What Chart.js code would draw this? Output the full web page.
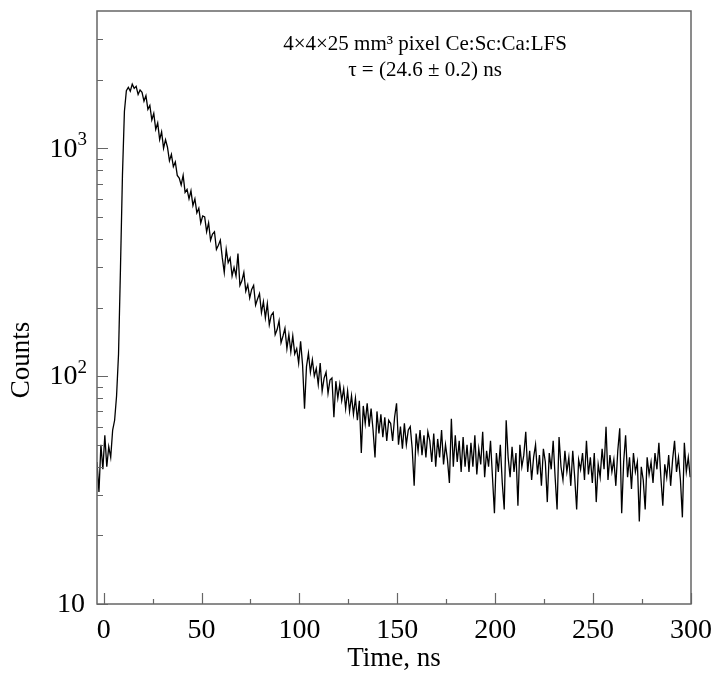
<!DOCTYPE html>
<html>
<head>
<meta charset="utf-8">
<title>Ce:Sc:Ca:LFS decay</title>
<script src="https://cdn.jsdelivr.net/npm/chart.js@4.4.1/dist/chart.umd.min.js"></script>
<style>
  html, body { margin: 0; padding: 0; background: #fff; }
  #wrap { width: 716px; height: 675px; }
</style>
</head>
<body>
<div id="wrap"><canvas id="decayChart" width="716" height="675"></canvas></div>
<script>
// time axis: first bin and bin width (ns)
const timeStart = -3.4;
const timeStep = 1;

// counts per bin
const counts = [
  42, 31, 50, 39, 55, 40, 49, 44, 58, 64,
  82, 125, 300, 760, 1450, 1790, 1850, 1780, 1910, 1830,
  1870, 1720, 1800, 1760, 1610, 1700, 1480, 1540, 1330, 1420,
  1210, 1290, 1090, 1180, 1000, 1090, 1010, 880, 940, 830,
  870, 760, 740, 690, 760, 640, 660, 600, 650, 560,
  600, 520, 545, 470, 505, 500, 430, 470, 395, 420,
  430, 360, 375, 395, 330, 285, 360, 315, 330, 275,
  300, 275, 345, 250, 262, 285, 236, 252, 220, 240,
  250, 205, 218, 230, 190, 212, 180, 208, 168, 185,
  190, 152, 160, 175, 140, 150, 162, 132, 152, 128,
  150, 125, 132, 114, 142, 112, 72, 110, 126, 104,
  118, 100, 108, 92, 114, 86, 98, 104, 84, 96,
  98, 66, 95, 80, 92, 78, 88, 72, 86, 70,
  82, 68, 80, 64, 78, 46, 74, 62, 76, 60,
  72, 58, 44, 70, 56, 68, 54, 66, 52, 64,
  62, 52, 66, 76, 50, 60, 48, 62, 50, 58,
  60, 48, 33, 56, 47, 58, 45, 55, 44, 57,
  52, 42, 56, 40, 53, 44, 58, 41, 50, 43,
  34, 65, 40, 55, 42, 52, 38, 54, 40, 50,
  38, 51, 40, 55, 37, 48, 41, 57, 36, 47,
  40, 52, 36, 25, 46, 38, 50, 34, 26, 64,
  44, 36, 49, 38, 46, 27, 50, 40, 45, 57,
  38, 47, 35, 44, 50, 37, 45, 33, 48, 42,
  28, 46, 39, 52, 36, 26, 54, 40, 35, 47,
  38, 44, 33, 47, 36, 26, 43, 39, 46, 35,
  52, 37, 44, 34, 46, 28, 41, 36, 48, 39,
  60, 35, 45, 38, 43, 33, 47, 59, 25, 42,
  55, 36, 44, 32, 46, 38, 42, 23, 40, 35,
  26, 44, 37, 42, 34, 46, 39, 51, 36, 27,
  41, 36, 45, 33, 43, 52, 38, 44, 35, 24,
  51, 38, 44, 36
];

const xTicks = [0, 25, 50, 75, 100, 125, 150, 175, 200, 225, 250, 275, 300];
const xLabelled = [0, 50, 100, 150, 200, 250, 300];
const yTicks = [10, 20, 30, 40, 50, 60, 70, 80, 90,
  100, 200, 300, 400, 500, 600, 700, 800, 900, 1000, 2000, 3000];
const yMajor = [10, 100, 1000];
const yExponents = ["", "2", "3"];

const noteLines = ["4\u00D74\u00D725 mm\u00B3 pixel Ce:Sc:Ca:LFS", "\u03C4 = (24.6 \u00B1 0.2) ns"];

const serif = "'Liberation Serif', 'Times New Roman', serif";

const points = counts.map((c, i) => ({ x: timeStart + i * timeStep, y: c }));

// box, inward ticks, y labels with exponents and the free text
const framePlugin = {
  id: "frame",
  afterDraw(chart) {
    const { ctx, chartArea: a } = chart;
    const x = chart.scales.x;
    const y = chart.scales.y;
    ctx.save();
    ctx.strokeStyle = "#666";
    ctx.lineWidth = 1.5;
    ctx.strokeRect(a.left, a.top, a.right - a.left, a.bottom - a.top);

    ctx.lineWidth = 1.2;
    ctx.beginPath();
    x.ticks.forEach((t) => {
      const px = Math.round(x.getPixelForValue(t.value)) + 0.5;
      const len = xLabelled.includes(t.value) ? 11 : 5;
      ctx.moveTo(px, a.bottom);
      ctx.lineTo(px, a.bottom - len);
    });
    y.ticks.forEach((t) => {
      const py = Math.round(y.getPixelForValue(t.value)) + 0.5;
      const len = yMajor.includes(t.value) ? 11 : 6;
      ctx.moveTo(a.left, py);
      ctx.lineTo(a.left + len, py);
    });
    ctx.stroke();

    ctx.fillStyle = "#000";
    ctx.textBaseline = "middle";

    // y tick labels: 10, 10^2, 10^3
    const labelRight = a.left - 10;
    yMajor.forEach((v, k) => {
      const py = y.getPixelForValue(v);
      const exp = yExponents[k];
      ctx.textAlign = "right";
      let baseRight = labelRight;
      if (exp) {
        ctx.font = "19px " + serif;
        const w = ctx.measureText(exp).width;
        ctx.fillText(exp, labelRight, py - 8);
        baseRight = labelRight - w;
      } else {
        baseRight = labelRight - 2;
      }
      ctx.font = "28px " + serif;
      ctx.fillText("10", baseRight, py + 1);
    });

    ctx.textAlign = "center";
    ctx.font = "21px " + serif;
    ctx.fillText(noteLines[0], 425, 44);
    ctx.fillText(noteLines[1], 425, 70);

    ctx.font = "27px " + serif;
    ctx.translate(22, 360);
    ctx.rotate(-Math.PI / 2);
    ctx.fillText("Counts", 0, 0);
    ctx.restore();
  }
};

const ctx = document.getElementById("decayChart").getContext("2d");

new Chart(ctx, {
  type: "line",
  data: {
    datasets: [
      {
        data: points,
        borderColor: "#000",
        borderWidth: 1.3,
        pointRadius: 0,
        tension: 0,
        fill: false
      }
    ]
  },
  options: {
    responsive: false,
    animation: false,
    devicePixelRatio: 1,
    layout: { padding: { top: 11, right: 25, left: 0, bottom: 0 } },
    plugins: {
      legend: { display: false },
      tooltip: { enabled: false }
    },
    scales: {
      x: {
        type: "linear",
        min: timeStart,
        max: 300,
        grid: { display: false, drawTicks: false },
        border: { display: false },
        afterBuildTicks: (s) => {
          s.ticks = xTicks.map((v) => ({ value: v }));
        },
        afterFit: (s) => {
          s.height = 71;
          s.paddingLeft = 0;
          s.paddingRight = 0;
        },
        ticks: {
          autoSkip: false,
          maxRotation: 0,
          padding: 10,
          color: "#000",
          font: { family: serif, size: 28 },
          callback: (v) => (xLabelled.includes(v) ? String(v) : "")
        },
        title: {
          display: true,
          text: "Time, ns",
          color: "#000",
          font: { family: serif, size: 27 },
          padding: { top: 0, bottom: 0 }
        }
      },
      y: {
        type: "logarithmic",
        min: 10,
        max: 4000,
        grid: { display: false, drawTicks: false },
        border: { display: false },
        afterBuildTicks: (s) => {
          s.ticks = yTicks.map((v) => ({ value: v }));
        },
        afterFit: (s) => {
          s.width = 97;
          s.paddingTop = 0;
          s.paddingBottom = 0;
        },
        ticks: {
          autoSkip: false,
          display: false
        }
      }
    }
  },
  plugins: [framePlugin]
});
</script>
</body>
</html>
